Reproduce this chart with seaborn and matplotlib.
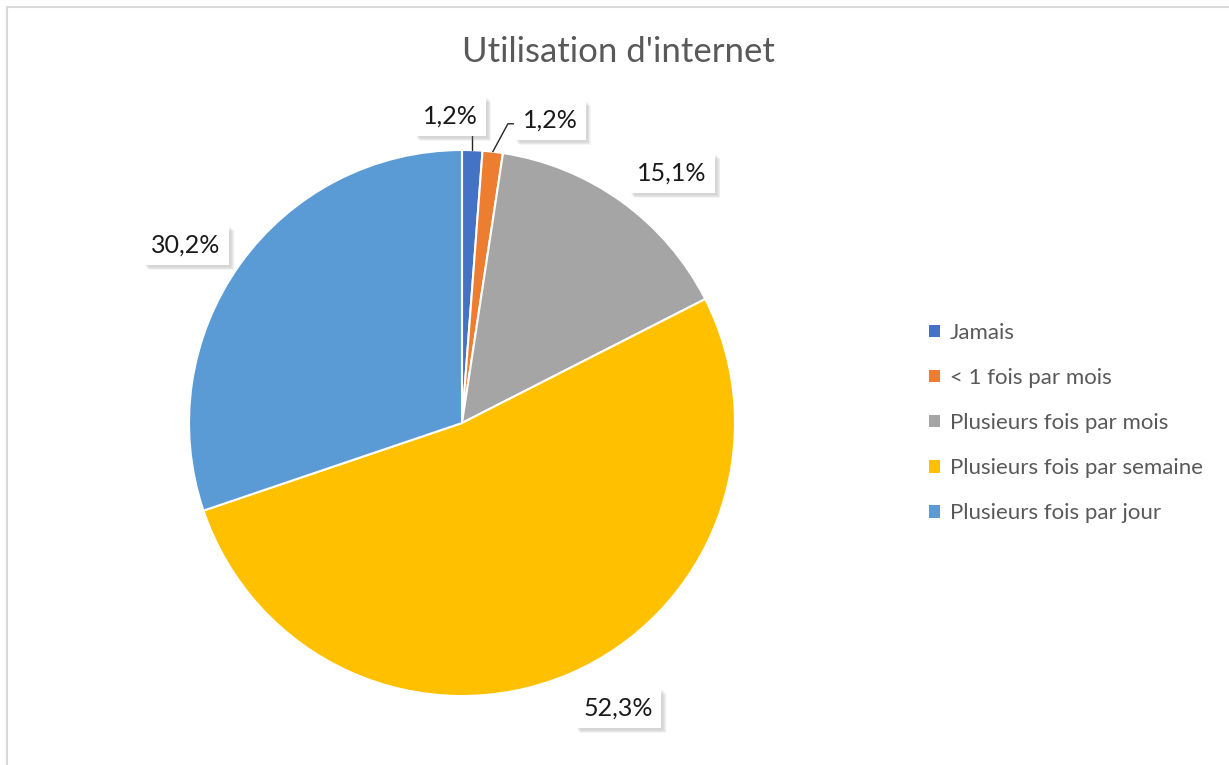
import numpy as np
import seaborn as sns
import matplotlib.pyplot as plt
import matplotlib.patheffects as pe
from matplotlib.patches import Patch
from matplotlib.lines import Line2D

categories = ['Jamais', '< 1 fois par mois', 'Plusieurs fois par mois',
              'Plusieurs fois par semaine', 'Plusieurs fois par jour']
shares = [1.2, 1.2, 15.1, 52.3, 30.2]
labels = ['1,2%', '1,2%', '15,1%', '52,3%', '30,2%']
colors = ['#4472C4', '#ED7D31', '#A5A5A5', '#FFC000', '#5B9BD5']

sns.set_theme(style='white')
plt.rcParams['font.family'] = ['Lato', 'DejaVu Sans']

fig = plt.figure(figsize=(12.29, 7.65), dpi=100)
cx, cy, r = 462 / 1229, 1 - 423 / 765, 273
ax = fig.add_axes([cx - r / 1229, cy - r / 765, 2 * r / 1229, 2 * r / 765])
wedges, _ = ax.pie(shares, colors=colors, startangle=90, counterclock=False,
                   wedgeprops=dict(edgecolor='white', linewidth=1.5))
ax.set_xlim(-1, 1)
ax.set_ylim(-1, 1)
ax.set_aspect('equal')
ax.axis('off')

# label centres in pie-radius units
label_xy = [(-0.044, 1.125), (0.322, 1.11), (0.769, 0.916), (0.571, -1.044), (-1.011, 0.652)]
leader = [True, True, False, False, False]

# soft shadow: stack of faint offset copies
shadow = []
for k in range(1, 6):
    shadow.append(pe.SimplePatchShadow(offset=(1.0 + 0.6 * k, -1.0 - 0.6 * k),
                                       shadow_rgbFace='#808080', alpha=0.07))
shadow.append(pe.Normal())

for w, lab, (tx, ty), ld in zip(wedges, labels, label_xy, leader):
    mid = np.deg2rad((w.theta1 + w.theta2) / 2)
    ex, ey = np.cos(mid), np.sin(mid)
    t = ax.text(tx, ty, lab, ha='center', va='center', fontsize=18, color='#1a1a1a',
                bbox=dict(boxstyle='square,pad=0.33', fc='white', ec='none'), zorder=5,
                clip_on=False)
    t.get_bbox_patch().set_path_effects(shadow)
    if ld:
        if abs(tx - ex) < 0.1:
            ax.plot([ex, ex], [ey, 1.062], color='#262626', lw=1, clip_on=False)
        else:
            ax.plot([ex, 0.168, 0.205], [ey, 1.096, 1.096], color='#262626', lw=1,
                    clip_on=False)

fig.text(618 / 1229, 1 - 52 / 765, "Utilisation d'internet", ha='center', va='center',
         fontsize=25, color='#595959')

handles = [Patch(facecolor=c, edgecolor='none') for c in colors]
fig.legend(handles, categories, loc='center left',
           bbox_to_anchor=(929 / 1229, 1 - 423 / 765), frameon=False,
           fontsize=16, labelcolor='#595959', handlelength=0.5, handleheight=0.5,
           handletextpad=0.45, labelspacing=1.13, borderaxespad=0, borderpad=0)

fig.add_artist(Line2D([7 / 1229, 7 / 1229], [0, 1 - 7 / 765], color='#d9d9d9', lw=1.5))
fig.add_artist(Line2D([7 / 1229, 1], [1 - 7 / 765, 1 - 7 / 765], color='#d9d9d9', lw=1.5))

fig.savefig('out.png', dpi=100)
